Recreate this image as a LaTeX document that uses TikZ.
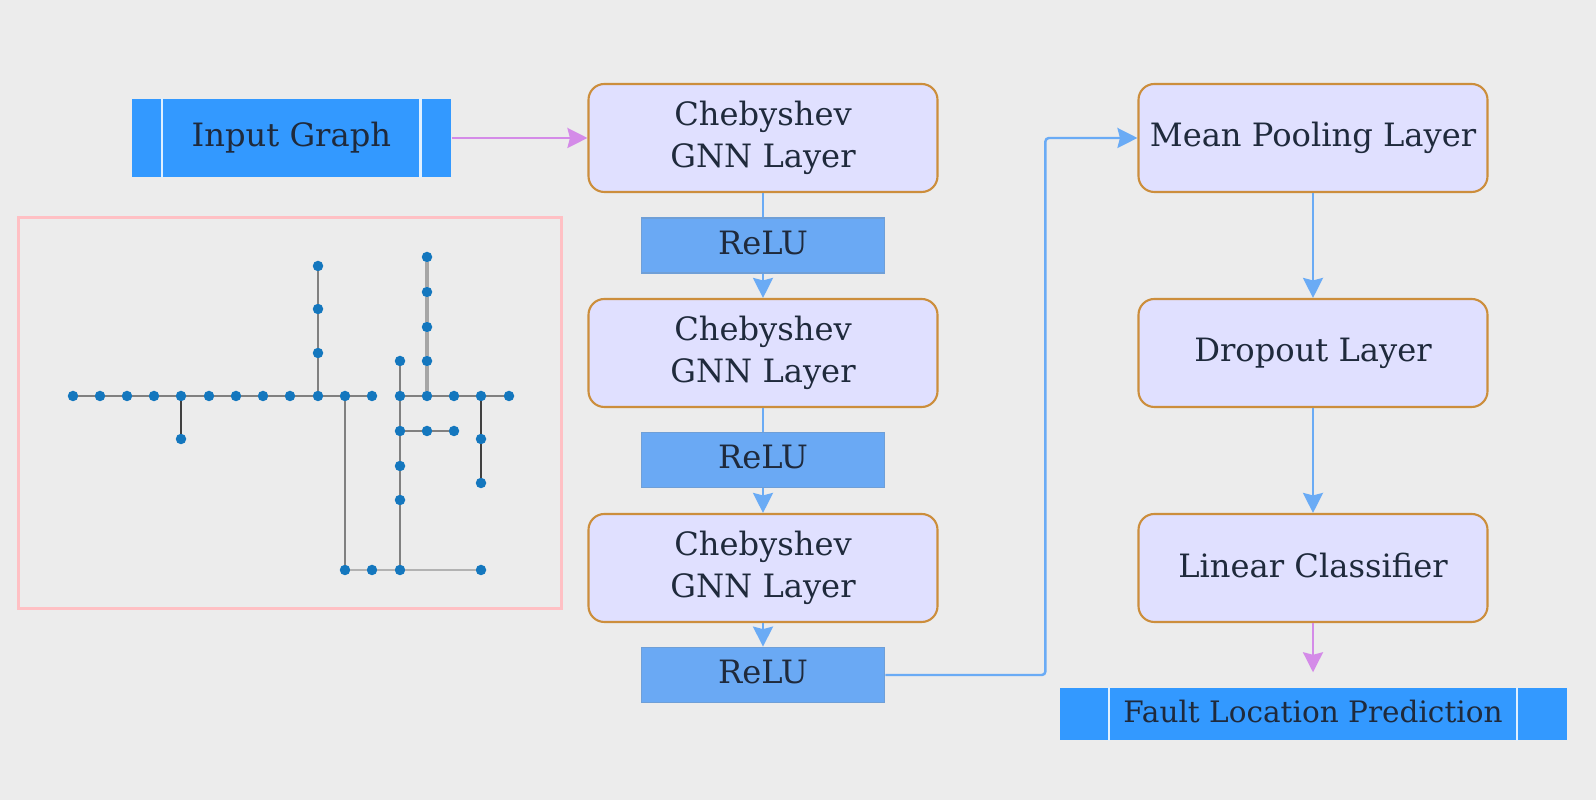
\documentclass[tikz,border=0pt]{standalone}
\usepackage{fontspec}
\setmainfont{DejaVu Serif}
\usetikzlibrary{arrows.meta,calc}
\definecolor{pagebg}{HTML}{ECECEC}
\definecolor{layerfill}{HTML}{E0E0FF}
\definecolor{layeredge}{HTML}{CC8E3C}
\definecolor{iofill}{HTML}{3399FF}
\definecolor{relufill}{HTML}{6AA9F4}
\definecolor{flowblue}{HTML}{6AABF5}
\definecolor{flowpink}{HTML}{D48BE8}
\definecolor{framered}{HTML}{FFC0C4}
\definecolor{dotblue}{HTML}{1477BE}
\definecolor{inktext}{HTML}{1F2A3C}

\begin{document}
\begin{tikzpicture}[
  font=\fontsize{9.15}{12}\selectfont,
  layer/.style={draw=layeredge,fill=layerfill,line width=0.6pt,rounded corners=4.5pt,align=center,
    minimum width=34.9mm,minimum height=10.8mm,inner sep=0pt,text=inktext},
  relu/.style={draw=relufill!75!gray,fill=relufill,line width=0.5pt,minimum width=24.3mm,minimum height=5.5mm,inner sep=0pt,text=inktext,text depth=0.6mm},
  iobox/.style={fill=iofill,inner sep=0pt,text=inktext},
  divider/.style={draw=white!85!iofill,line width=0.7pt},
  flow/.style={-{Stealth[length=2mm,width=2mm,inset=0.25mm]},draw=flowblue,line width=0.7pt},
  plain/.style={draw=flowblue,line width=0.7pt},
  pinkflow/.style={flow,draw=flowpink},
  dot/.style={circle,fill=dotblue,minimum size=1.05mm,inner sep=0pt,outer sep=0pt},
  wire/.style={draw=gray,line width=0.75pt},
  darkwire/.style={draw=black!75,line width=0.75pt},
  lightwire/.style={draw=black!30,line width=0.65pt},
  thickwire/.style={draw=black!35,line width=1.1pt}
]
\useasboundingbox[fill=pagebg] (0,0) rectangle (15.96,8);
% left column
\node[iobox,minimum width=31.9mm,minimum height=7.8mm] (input) at (2.914,6.62) {Input Graph};
\node[draw=framered,line width=0.9pt,minimum width=54.3mm,minimum height=39.1mm,inner sep=0pt] (frame) at (2.90,3.87) {};
\draw[divider] ($(input.north west)+(0.31,0)$) -- ($(input.south west)+(0.31,0)$);
\draw[divider] ($(input.north east)+(-0.31,0)$) -- ($(input.south east)+(-0.31,0)$);
% middle column
\node[layer] (cheba) at (7.63,6.62) {Chebyshev\\GNN Layer};
\node[relu] (relua) at (7.63,5.545) {ReLU};
\node[layer] (chebb) at (7.63,4.47) {Chebyshev\\GNN Layer};
\node[relu] (relub) at (7.63,3.40) {ReLU};
\node[layer] (chebc) at (7.63,2.32) {Chebyshev\\GNN Layer};
\node[relu] (reluc) at (7.63,1.25) {ReLU};
% right column
\node[layer] (mean) at (13.13,6.62) {Mean Pooling Layer};
\node[layer] (drop) at (13.13,4.47) {Dropout Layer};
\node[layer,text depth=0.6mm] (linear) at (13.13,2.32) {Linear Classifier};
\node[iobox,font=\fontsize{8.4}{10}\selectfont,text depth=0.6mm,minimum width=50.7mm,minimum height=5.2mm] (fault) at (13.13,0.86) {Fault Location Prediction};
\draw[divider] ($(fault.north west)+(0.5,0)$) -- ($(fault.south west)+(0.5,0)$);
\draw[divider] ($(fault.north east)+(-0.5,0)$) -- ($(fault.south east)+(-0.5,0)$);
% connectors
\draw[pinkflow] (input.east) -- (cheba.west);
\draw[plain] (cheba) -- (relua);
\draw[flow] (relua) -- (chebb);
\draw[plain] (chebb) -- (relub);
\draw[flow] (relub) -- (chebc);
\draw[flow] (chebc) -- (reluc);
\draw[flow,rounded corners=1pt] (reluc.east) -- ++(1.6,0) |- (mean.west);
\draw[flow] (mean) -- (drop);
\draw[flow] (drop) -- (linear);
\draw[pinkflow,shorten >=1.5mm] (linear) -- (fault);
% small graph inside the frame
\foreach \name/\px/\py in {a/0.73/4.04,b/1.00/4.04,c/1.27/4.04,d/1.54/4.04,e/1.81/4.04,f/2.09/4.04,
    g/2.36/4.04,h/2.63/4.04,i/2.90/4.04,j/3.18/4.04,k/3.45/4.04,l/3.72/4.04,m/4.00/4.04,n/4.27/4.04,
    o/4.54/4.04,p/4.81/4.04,q/5.09/4.04,r/1.81/3.61,s/3.18/4.47,t/3.18/4.91,u/3.18/5.34,
    v/4.27/4.39,w/4.27/4.73,x/4.27/5.08,y/4.27/5.43,z/4.00/4.39,aa/4.00/3.69,ab/4.27/3.69,ac/4.54/3.69,
    ad/4.00/3.34,ae/4.00/3.00,af/4.81/3.61,ag/4.81/3.17,ah/3.45/2.30,ai/3.72/2.30,aj/4.00/2.30,ak/4.81/2.30}
  \node[dot] (\name) at (\px,\py) {};
\foreach \from/\to in {a/b,b/c,c/d,d/e,e/f,f/g,g/h,h/i,i/j,j/k,k/l,m/n,n/o,o/p,p/q,j/s,s/t,t/u,k/ah,m/z,m/aa,aa/ad,ad/ae,ae/aj,aa/ab,ab/ac}
  \draw[wire] (\from) -- (\to);
\foreach \from/\to in {e/r,p/af,af/ag}
  \draw[darkwire] (\from) -- (\to);
\foreach \from/\to in {ah/ai,ai/aj,aj/ak}
  \draw[lightwire] (\from) -- (\to);
\foreach \from/\to in {n/v,v/w,w/x,x/y}
  \draw[thickwire] (\from) -- (\to);
\end{tikzpicture}
\end{document}
